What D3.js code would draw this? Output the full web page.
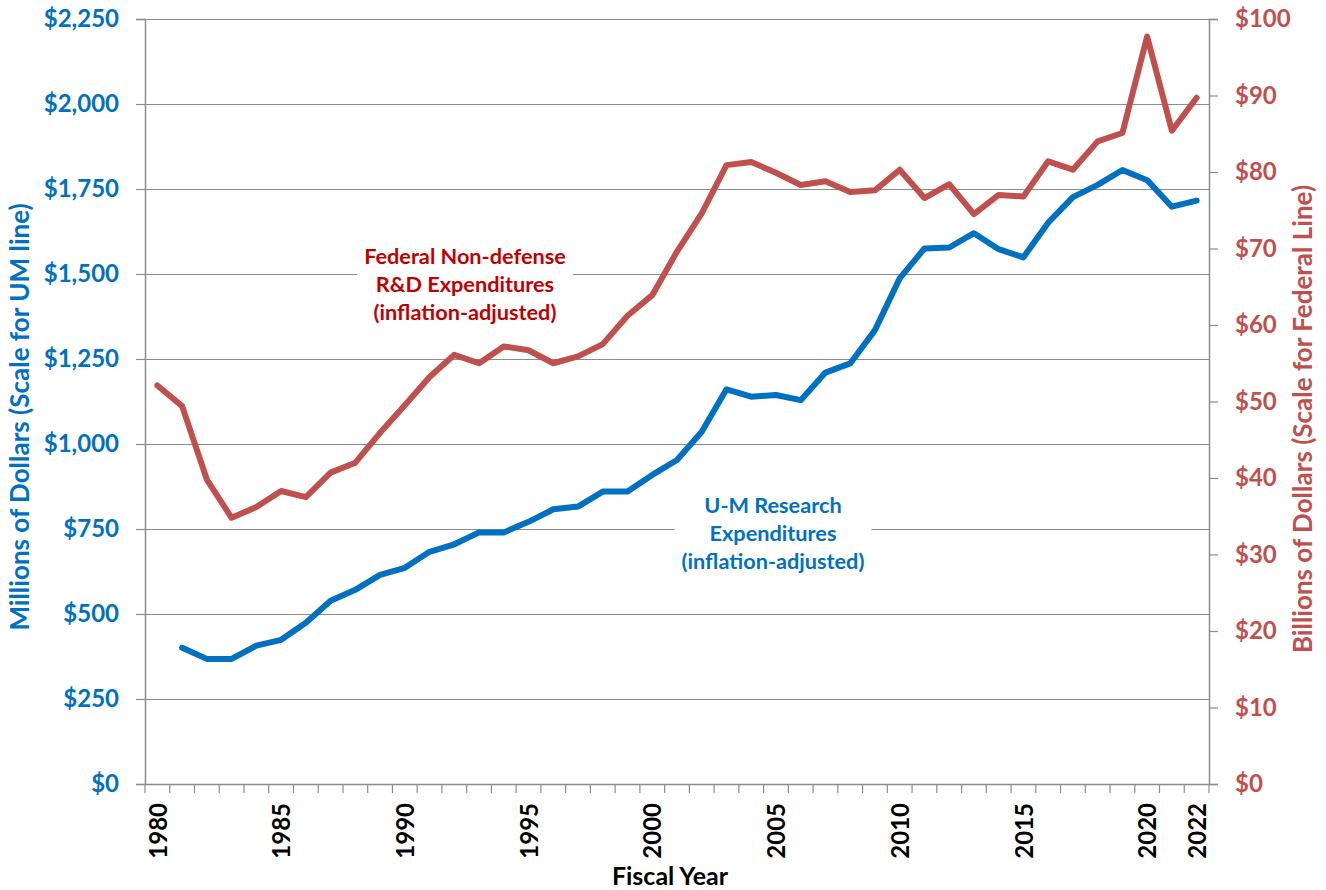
<!DOCTYPE html>
<html>
<head>
<meta charset="utf-8">
<script src="https://cdn.jsdelivr.net/npm/d3@7"></script>
<style>
  html, body { margin: 0; padding: 0; background: #fff; }
  svg { display: block; font-family: Lato, "Open Sans", sans-serif; }
</style>
</head>
<body>
<svg id="chart" width="1326" height="890"></svg>
<script>
// ---- data ----
const years = d3.range(1980, 2023);
const xTickLabels = [1980, 1985, 1990, 1995, 2000, 2005, 2010, 2015, 2020, 2022];
// U-M research expenditures, millions of dollars (inflation-adjusted); 1980 not reported
const umYears = d3.range(1981, 2023);
const umValues = [401, 368, 368, 407, 424, 474, 539, 571, 615, 636,
                  683, 705, 740, 740, 771, 808, 816, 860, 860, 909,
                  953, 1036, 1161, 1139, 1144, 1129, 1210, 1237, 1335, 1487,
                  1575, 1578, 1620, 1573, 1549, 1651, 1726, 1762, 1806, 1776,
                  1698, 1716];
// Federal non-defense R&D expenditures, billions of dollars (inflation-adjusted)
const fedYears = d3.range(1980, 2023);
const fedValues = [52.1, 49.4, 39.8, 34.8, 36.2, 38.3, 37.5, 40.7, 42.0, 45.9,
                   49.5, 53.2, 56.1, 55.0, 57.2, 56.7, 55.0, 55.9, 57.5, 61.2,
                   63.9, 69.6, 74.6, 80.9, 81.3, 79.9, 78.3, 78.8, 77.4, 77.6,
                   80.3, 76.6, 78.4, 74.5, 77.0, 76.8, 81.4, 80.3, 84.0, 85.1,
                   97.7, 85.4, 89.7];
const leftTicks = [0, 250, 500, 750, 1000, 1250, 1500, 1750, 2000, 2250];
const rightTicks = [0, 10, 20, 30, 40, 50, 60, 70, 80, 90, 100];
const fedLabel = ["Federal Non-defense", "R&D Expenditures", "(inflation-adjusted)"];
const umLabel = ["U-M Research", "Expenditures", "(inflation-adjusted)"];

// ---- layout ----
const L = 145, R = 1209, T = 19, B = 784;
const blue = "#0070C0", red = "#C0504D", darkRed = "#C00000", grid = "#8c8c8c";

const svg = d3.select("#chart");
const x = d3.scaleBand().domain(years).range([L, R]).padding(0);
const bw = x.bandwidth();
const yL = d3.scaleLinear().domain([0, 2250]).range([B, T]);
const yR = d3.scaleLinear().domain([0, 100]).range([B, T]);

// gridlines
svg.append("g").selectAll("line").data(leftTicks).join("line")
  .attr("x1", L).attr("x2", R)
  .attr("y1", d => yL(d) + 0.5).attr("y2", d => yL(d) + 0.5)
  .attr("stroke", grid).attr("stroke-width", 1.2);

// label boxes + text (white backgrounds mask gridlines)
function addLabel(lines, cx, firstBaseline, color) {
  const g = svg.append("g");
  const rect = g.append("rect").attr("fill", "#fff");
  const t = g.append("text").attr("text-anchor", "middle")
    .attr("font-size", 21.7).attr("font-weight", 700).attr("fill", color);
  lines.forEach((s, i) => {
    t.append("tspan").attr("x", cx).attr("y", firstBaseline + i * 28).text(s);
  });
  const bb = t.node().getBBox();
  rect.attr("x", bb.x - 7).attr("y", bb.y - 4).attr("width", bb.width + 14).attr("height", bb.height + 8);
}
addLabel(fedLabel, 465, 264, darkRed);
addLabel(umLabel, 773, 513, blue);

// left axis
const axL = svg.append("g").attr("transform", `translate(${L},0)`)
  .call(d3.axisLeft(yL).tickValues(leftTicks).tickSize(9).tickPadding(17)
    .tickFormat(d => "$" + d3.format(",")(d)));
axL.select(".domain").attr("stroke", grid).attr("stroke-width", 1.5);
axL.selectAll(".tick line").attr("stroke", grid).attr("stroke-width", 1.2);
axL.selectAll("text").attr("fill", blue).attr("font-size", 24).attr("font-weight", 700)
  .attr("font-family", "Lato, sans-serif");

// right axis
const axR = svg.append("g").attr("transform", `translate(${R},0)`)
  .call(d3.axisRight(yR).tickValues(rightTicks).tickSize(9).tickPadding(17)
    .tickFormat(d => "$" + d));
axR.select(".domain").attr("stroke", grid).attr("stroke-width", 1.5);
axR.selectAll(".tick line").attr("stroke", grid).attr("stroke-width", 1.2);
axR.selectAll("text").attr("fill", red).attr("font-size", 24).attr("font-weight", 700)
  .attr("font-family", "Lato, sans-serif");

// bottom axis: boundary ticks
const boundaries = years.map(y => x(y)).concat([x(years[years.length - 1]) + bw]);
svg.append("g").selectAll("line").data(boundaries).join("line")
  .attr("x1", d => d).attr("x2", d => d).attr("y1", B).attr("y2", B + 9)
  .attr("stroke", grid).attr("stroke-width", 1.2);
svg.append("line").attr("x1", L).attr("x2", R).attr("y1", B + 0.5).attr("y2", B + 0.5)
  .attr("stroke", grid).attr("stroke-width", 1.5);
const axB = svg.append("g").attr("transform", `translate(0,${B})`)
  .call(d3.axisBottom(d3.scalePoint().domain(years).range([L + bw / 2, R - bw / 2]))
    .tickValues(xTickLabels).tickSize(0));
axB.select(".domain").remove();
axB.selectAll("text")
  .attr("transform", "rotate(-90)")
  .attr("text-anchor", "end").attr("x", -19).attr("y", 0).attr("dy", "0.36em")
  .attr("fill", "#000").attr("font-size", 24).attr("font-weight", 700)
  .attr("font-family", "Lato, sans-serif");

// lines
const lineL = d3.line().x(d => x(d[0]) + bw / 2).y(d => yL(d[1]));
const lineR = d3.line().x(d => x(d[0]) + bw / 2).y(d => yR(d[1]));
svg.append("path").datum(fedYears.map((y, i) => [y, fedValues[i]]))
  .attr("d", lineR).attr("fill", "none").attr("stroke", red).attr("stroke-width", 6)
  .attr("stroke-linejoin", "round").attr("stroke-linecap", "round");
svg.append("path").datum(umYears.map((y, i) => [y, umValues[i]]))
  .attr("d", lineL).attr("fill", "none").attr("stroke", blue).attr("stroke-width", 6)
  .attr("stroke-linejoin", "round").attr("stroke-linecap", "round");

// axis titles
svg.append("text").attr("transform", "translate(29,417) rotate(-90)")
  .attr("text-anchor", "middle").attr("font-size", 26).attr("font-weight", 700)
  .attr("fill", blue).text("Millions of Dollars (Scale for UM line)");
svg.append("text").attr("transform", "translate(1312,419) rotate(-90)")
  .attr("text-anchor", "middle").attr("font-size", 26).attr("font-weight", 700)
  .attr("fill", red).text("Billions of Dollars (Scale for Federal Line)");
svg.append("text").attr("x", 670).attr("y", 885)
  .attr("text-anchor", "middle").attr("font-size", 25).attr("font-weight", 700)
  .attr("fill", "#000").text("Fiscal Year");
</script>
</body>
</html>
